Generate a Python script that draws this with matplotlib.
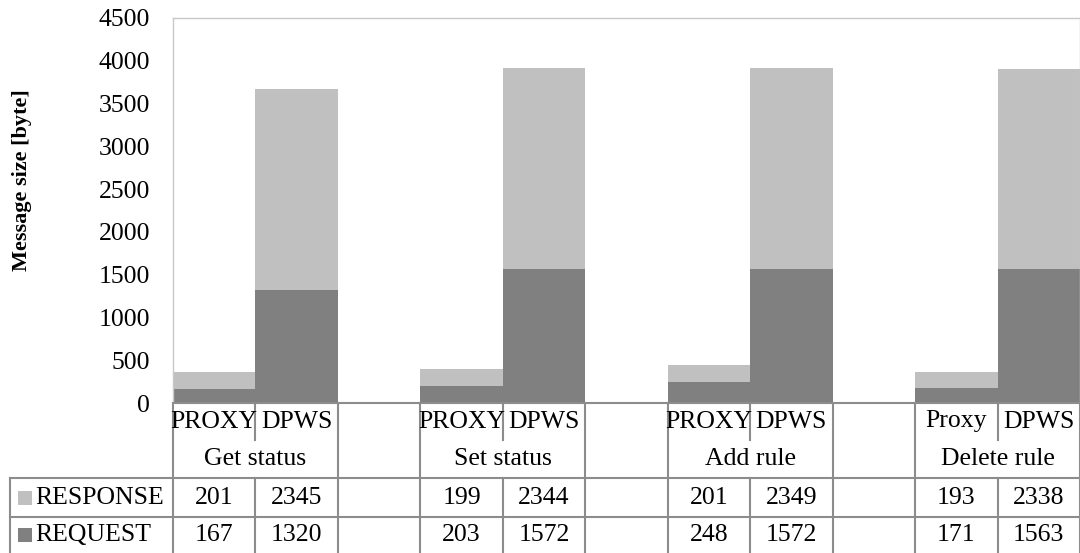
import matplotlib.pyplot as plt
import matplotlib.transforms as mtransforms
from matplotlib.patches import Rectangle

plt.rcParams['font.family'] = ['Liberation Serif', 'DejaVu Serif']

groups = ['Get status', 'Set status', 'Add rule', 'Delete rule']
proxy_names = ['PROXY', 'PROXY', 'PROXY', 'Proxy']
dpws_names = ['DPWS', 'DPWS', 'DPWS', 'DPWS']
request_proxy = [167, 203, 248, 171]
request_dpws = [1320, 1572, 1572, 1563]
response_proxy = [201, 199, 201, 193]
response_dpws = [2345, 2344, 2349, 2338]

c_resp = '#c0c0c0'
c_req = '#808080'
line_c = '#8c8c8c'
fs = 18.5

# positions: each group uses 3 slots (proxy, dpws, empty)
xs, req, resp, names = [], [], [], []
for g in range(len(groups)):
    xs += [3 * g, 3 * g + 1]
    req += [request_proxy[g], request_dpws[g]]
    resp += [response_proxy[g], response_dpws[g]]
    names += [proxy_names[g], dpws_names[g]]

fig = plt.figure(figsize=(10.8, 5.53), dpi=100)
W, H = 1080, 553
L, R, T, B = 173, 1080, 18, 403
ax = fig.add_axes([L / W, 1 - B / H, (R - L) / W, (B - T) / H])

ax.bar(xs, req, width=1.0, color=c_req, linewidth=0)
ax.bar(xs, resp, width=1.0, bottom=req, color=c_resp, linewidth=0)

ax.set_xlim(-0.5, 3 * len(groups) - 1.5)
ax.set_ylim(0, 4500)
ax.set_yticks(range(0, 4501, 500))
ax.tick_params(axis='y', length=0, labelsize=fs, pad=16.5)
ax.set_xticks([])
for s in ['left', 'top', 'right']:
    ax.spines[s].set_color('#c8c8c8')
    ax.spines[s].set_linewidth(1)
ax.spines['bottom'].set_color(line_c)
ax.spines['bottom'].set_linewidth(1.5)
fig.text(22 / W, 1 - 180 / H, 'Message size [byte]', fontsize=16,
         fontweight='bold', rotation=90, ha='center', va='center')

# data table below the axes
trans = mtransforms.blended_transform_factory(ax.transData, ax.transAxes)
def ya(px):
    return (B - px) / (B - T)

y_cat, y_grp, y_r1, y_r2, y_end = 403, 440, 478, 517, 553
x_hdr = (10 - L) / ((R - L) / 11) - 0.5
x_max = 3 * len(groups) - 1.5

def vline(x, y0, y1):
    ax.plot([x, x], [ya(y0), ya(y1)], color=line_c, lw=1.5, transform=trans, clip_on=False)

def hline(x0, x1, y):
    ax.plot([x0, x1], [ya(y), ya(y)], color=line_c, lw=1.5, transform=trans, clip_on=False)

hline(x_hdr, x_max, y_r1)
hline(x_hdr, x_max, y_r2)
vline(x_hdr, y_r1, y_end)
for g in range(len(groups)):
    left = 3 * g - 0.5
    vline(left, y_cat, y_end)
    vline(left + 1, y_cat, y_grp)
    vline(left + 1, y_r1, y_end)
    vline(left + 2, y_cat, y_end)

for x, n, a, b in zip(xs, names, resp, req):
    ax.text(x, ya((y_cat + y_grp) / 2), n, ha='center', va='center', fontsize=fs, transform=trans)
    ax.text(x, ya((y_r1 + y_r2) / 2), str(a), ha='center', va='center', fontsize=fs, transform=trans)
    ax.text(x, ya((y_r2 + y_end) / 2), str(b), ha='center', va='center', fontsize=fs, transform=trans)
for g, name in enumerate(groups):
    ax.text(3 * g + 0.5, ya((y_grp + y_r1) / 2), name, ha='center', va='center', fontsize=fs, transform=trans)

# row headers with legend keys
for label, col, y0, y1 in [('RESPONSE', c_resp, y_r1, y_r2), ('REQUEST', c_req, y_r2, y_end)]:
    yc = (y0 + y1) / 2
    fig.patches.append(Rectangle((18 / W, 1 - (yc + 7) / H), 14 / W, 14 / H,
                                 transform=fig.transFigure, facecolor=col, edgecolor='none'))
    fig.text(35 / W, 1 - yc / H, label, fontsize=fs, ha='left', va='center')

fig.savefig('out.png', dpi=100)
